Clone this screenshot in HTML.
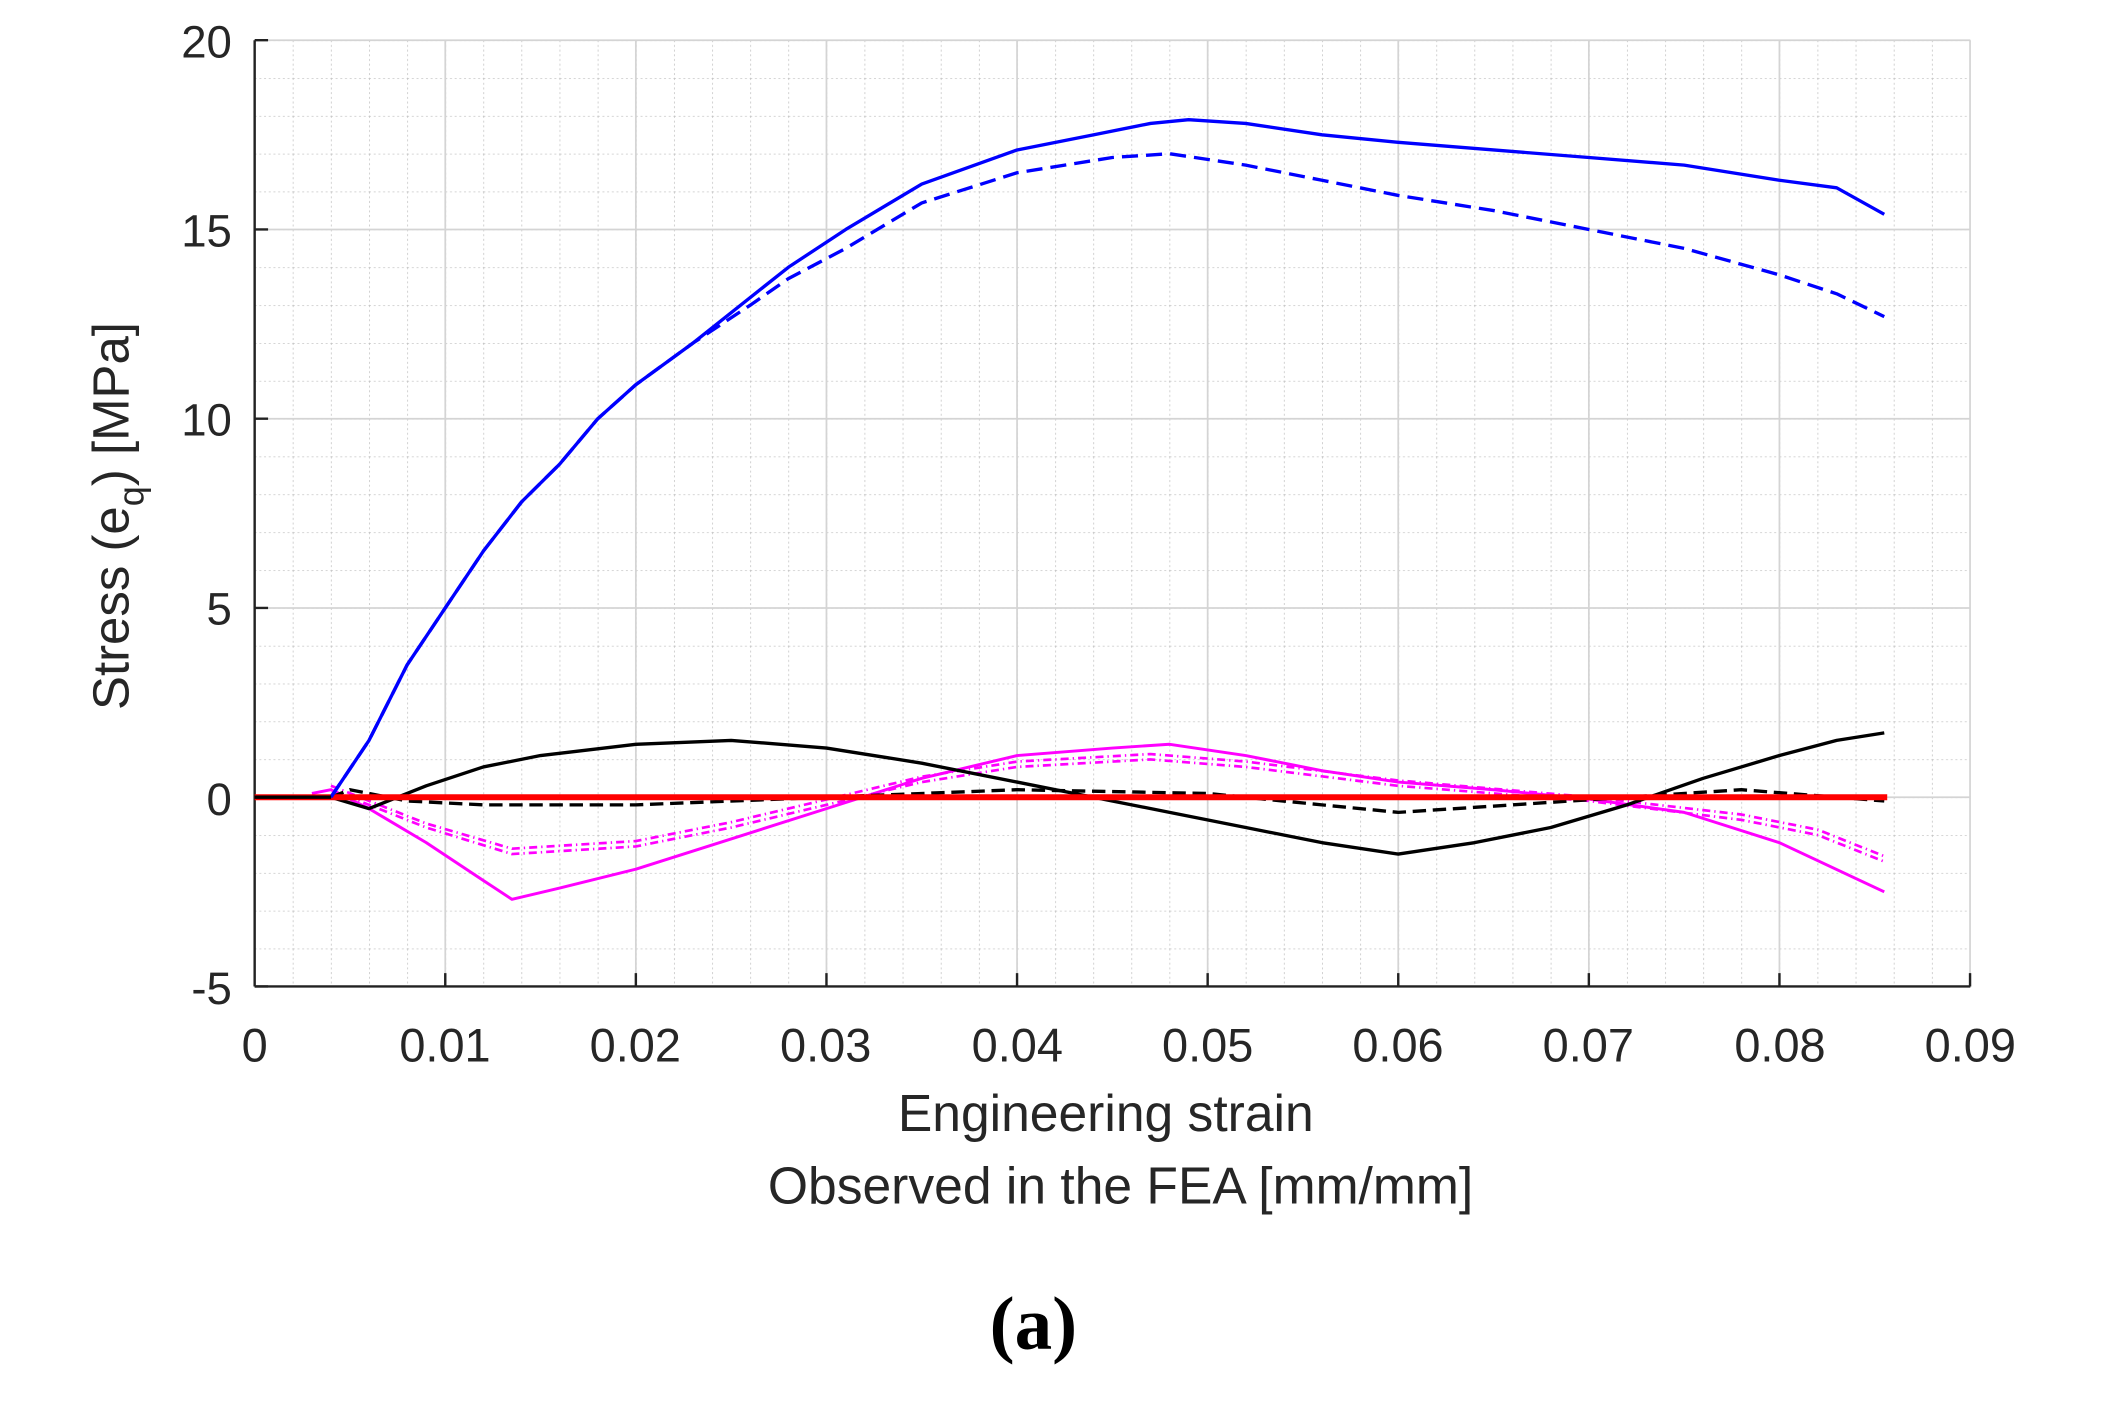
<!DOCTYPE html>
<html><head><style>html,body{margin:0;padding:0;background:#fff}svg{display:block}</style></head>
<body>
<svg width="2101" height="1406" viewBox="0 0 1567.5 1049" preserveAspectRatio="none" xmlns="http://www.w3.org/2000/svg">
<defs>
<pattern id="mg" patternUnits="userSpaceOnUse" x="190" y="30" width="28.44" height="28.24">
<line x1="0" y1="0" x2="0" y2="28.24" stroke="#bbb" stroke-width="1" stroke-dasharray="1.5,2"/>
<line x1="0" y1="0" x2="28.44" y2="0" stroke="#bbb" stroke-width="1" stroke-dasharray="1.5,2"/>
</pattern>
</defs>
<rect x="190" y="30" width="1280" height="706" fill="url(#mg)"/>
<g stroke="#d4d4d4" stroke-width="1.3">
<line x1="332.2" y1="30" x2="332.2" y2="736"/><line x1="474.4" y1="30" x2="474.4" y2="736"/>
<line x1="616.6" y1="30" x2="616.6" y2="736"/><line x1="758.8" y1="30" x2="758.8" y2="736"/>
<line x1="901" y1="30" x2="901" y2="736"/><line x1="1043.2" y1="30" x2="1043.2" y2="736"/>
<line x1="1185.4" y1="30" x2="1185.4" y2="736"/><line x1="1327.6" y1="30" x2="1327.6" y2="736"/>
<line x1="1469.8" y1="30" x2="1469.8" y2="736"/>
<line x1="190" y1="30" x2="1470" y2="30"/><line x1="190" y1="171.2" x2="1470" y2="171.2"/>
<line x1="190" y1="312.4" x2="1470" y2="312.4"/><line x1="190" y1="453.6" x2="1470" y2="453.6"/>
<line x1="190" y1="594.8" x2="1470" y2="594.8"/>
</g>
<g stroke="#222" stroke-width="1.8" fill="none">
<line x1="190" y1="30" x2="190" y2="736"/><line x1="190" y1="736" x2="1470" y2="736"/>
<path d="M190 30h10M190 171.2h10M190 312.4h10M190 453.6h10M190 594.8h10M190 736h10"/>
<path d="M332.2 736v-10M474.4 736v-10M616.6 736v-10M758.8 736v-10M901 736v-10M1043.2 736v-10M1185.4 736v-10M1327.6 736v-10M1469.8 736v-10"/>
</g>
<g font-family="Liberation Sans, sans-serif" font-size="34" fill="#262626" text-anchor="end">
<text x="173" y="43">20</text><text x="173" y="184">15</text><text x="173" y="325">10</text>
<text x="173" y="466">5</text><text x="173" y="608">0</text><text x="173" y="749">-5</text>
</g>
<g font-family="Liberation Sans, sans-serif" font-size="35" fill="#262626" text-anchor="middle">
<text x="190" y="792">0</text><text x="332" y="792">0.01</text><text x="474" y="792">0.02</text>
<text x="616" y="792">0.03</text><text x="759" y="792">0.04</text><text x="901" y="792">0.05</text>
<text x="1043" y="792">0.06</text><text x="1185" y="792">0.07</text><text x="1328" y="792">0.08</text>
<text x="1470" y="792">0.09</text>
<text x="825" y="844" font-size="38.5">Engineering strain</text>
<text x="836" y="898" font-size="38.5">Observed in the FEA [mm/mm]</text>
</g>
<text transform="translate(96,385) rotate(-90)" font-family="Liberation Sans, sans-serif" font-size="38" fill="#262626" text-anchor="middle">Stress (e<tspan font-size="27" dy="11">q</tspan><tspan dy="-11">) [MPa]</tspan></text>
<text x="771" y="1006" font-family="Liberation Serif, serif" font-size="56" font-weight="bold" text-anchor="middle" fill="#000">(a)</text>

<g fill="none" stroke-linejoin="round">
<polyline stroke="#ff00ff" stroke-width="2" stroke-dasharray="6,3,1,3" points="246.9,586.2 275.3,597.5 318,614.4 382,633.2 474.4,627.5 545.5,613.4 616.6,596.5 687.7,579.5 758.8,568.2 858.3,562.6 929.4,568.2 1043.2,582.3 1185.4,594.6 1299.2,607.7 1356.2,619 1405.8,638.8"/>
<polyline stroke="#ff00ff" stroke-width="2" stroke-dasharray="6,3,1,3" points="246.9,589.2 275.3,600.5 318,617.4 382,637.2 474.4,631.5 545.5,617.4 616.6,600.5 687.7,583.5 758.8,572.2 858.3,566.6 929.4,572.2 1043.2,586.3 1185.4,597.6 1299.2,611.7 1356.2,623 1405.8,642.8"/>
<polyline stroke="#ff00ff" stroke-width="2.2" points="232.7,592 246.9,589.2 275.3,603.3 318,628.7 360.6,656.9 382,671 417.5,662.6 474.4,648.5 545.5,625.9 616.6,603.3 687.7,580.7 758.8,563.7 829.9,558.1 872.6,555.3 929.4,563.7 986.3,575 1043.2,583.5 1114.3,589.2 1185.4,596.2 1256.5,606.1 1327.6,628.7 1405.8,665.4"/>
<polyline stroke="#000" stroke-width="2.5" stroke-dasharray="10,5" points="246.9,594.8 261.1,589.2 303.8,597.6 360.6,600.5 474.4,600.5 616.6,594.8 758.8,589.2 901,592 986.3,600.5 1043.2,606.1 1128.5,600.5 1213.8,594.8 1299.2,589.2 1405.8,597.6"/>
<polyline stroke="#000" stroke-width="2.5" points="246.9,594.8 275.3,603.3 318,586.3 360.6,572.2 403.3,563.7 474.4,555.3 545.5,552.4 616.6,558.1 687.7,569.4 758.8,583.5 815.7,594.8 872.6,606.1 929.4,617.4 986.3,628.7 1043.2,637.2 1100.1,628.7 1157,617.4 1213.8,600.5 1270.7,580.7 1327.6,563.7 1370.3,552.4 1405.8,546.8"/>
<line x1="190" y1="594.8" x2="1408" y2="594.8" stroke="#ff0000" stroke-width="4.5"/>
<polyline stroke="#0000ff" stroke-width="2.5" stroke-dasharray="12,6" points="246.9,594.8 275.3,552.4 303.8,496 332.2,453.6 360.6,411.2 389.1,374.5 417.5,346.3 446,312.4 474.4,287 517.1,255.9 559.7,227.7 588.2,207.9 631,185.3 687.7,151.4 758.8,128.9 829.9,117.5 872.6,114.7 929.4,123.2 986.3,134.5 1043.2,145.8 1114.3,157.1 1185.4,171.2 1256.5,185.3 1327.6,205.1 1370.3,219.2 1405.8,236.2"/>
<polyline stroke="#0000ff" stroke-width="2.5" points="246.9,594.8 275.3,552.4 303.8,496 332.2,453.6 360.6,411.2 389.1,374.5 417.5,346.3 446,312.4 474.4,287 517.1,255.9 559.7,222 588.2,199.4 631,171.2 687.7,137.3 758.8,111.9 815.7,100.6 858.3,92.1 886.8,89.3 929.4,92.1 986.3,100.6 1043.2,106.2 1114.3,111.9 1185.4,117.5 1256.5,123.2 1327.6,134.5 1370.3,140.1 1405.8,159.9"/>
<line x1="190" y1="594.8" x2="247" y2="594.8" stroke="#000" stroke-width="2.5"/>
</g>
</svg>
</body></html>
